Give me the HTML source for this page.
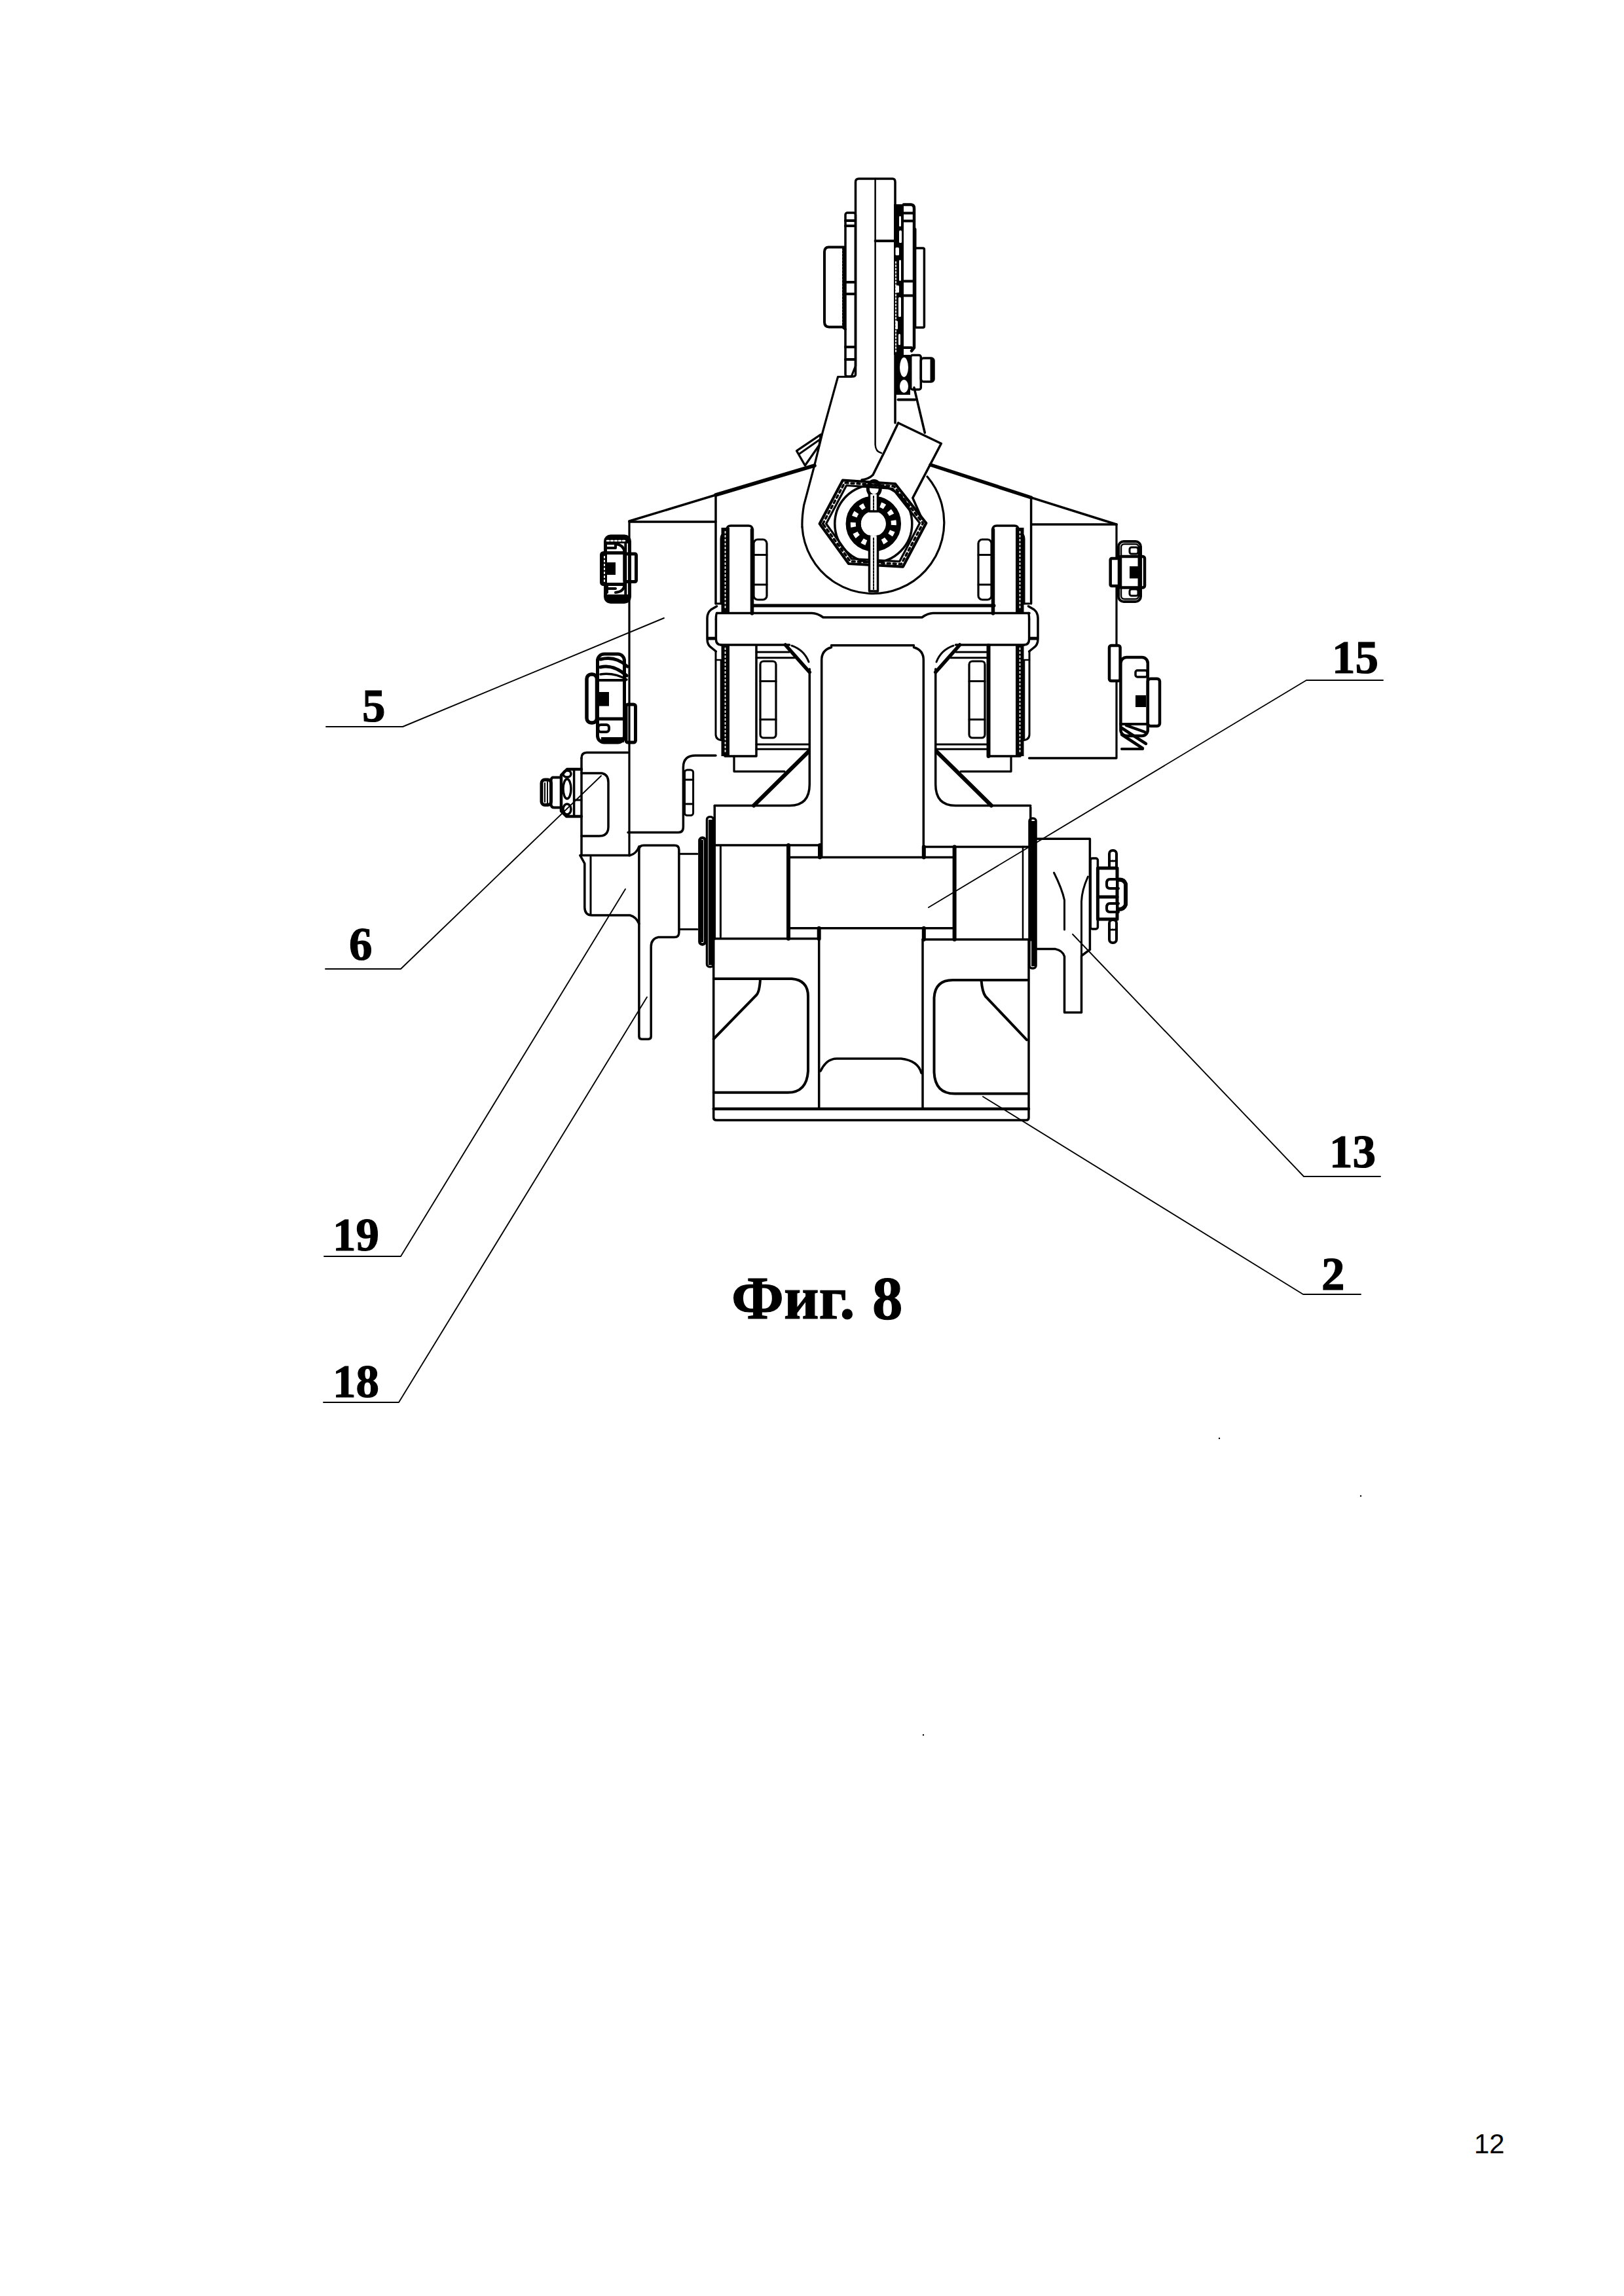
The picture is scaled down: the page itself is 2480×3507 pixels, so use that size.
<!DOCTYPE html>
<html><head><meta charset="utf-8"><style>html,body{margin:0;padding:0;background:#fff}svg{display:block}.serif{font-family:"Liberation Serif",serif}.sans{font-family:"Liberation Sans",sans-serif}</style></head>
<body><svg width="2480" height="3507" viewBox="0 0 2480 3507">
<g fill="none" stroke="#000" stroke-linecap="round" stroke-linejoin="round">
<path d="M498,1110 H615 L1014,944" stroke-width="1.9"/>
<path d="M497,1480 H612 L918,1185" stroke-width="1.9"/>
<path d="M1418,1386 L1995,1039 H2112" stroke-width="1.9"/>
<path d="M1638,1427 L1991,1797 H2108" stroke-width="1.9"/>
<path d="M1501,1675 L1990,1977 H2078" stroke-width="1.9"/>
<path d="M495,1919 H612 L955,1358" stroke-width="1.9"/>
<path d="M494,2142 H609 L988,1523" stroke-width="1.9"/>
<path d="M961,796 L1093,756" stroke-width="3.5"/>
<path d="M1093,756 L1244,711" stroke-width="5.5"/>
<path d="M1421,710 L1574.6,760" stroke-width="5.5"/>
<path d="M1574.6,760 L1705,801" stroke-width="3.5"/>
<path d="M961,797 H1093" stroke-width="3.5"/>
<path d="M1574.6,801 H1705" stroke-width="3.5"/>
<path d="M961,796 V1307" stroke-width="3.2"/>
<path d="M1705,801 V1158" stroke-width="3.2"/>
<path d="M1093,756 V922" stroke-width="3.5"/>
<path d="M1574.6,760 V922" stroke-width="3.5"/>
<path d="M959,1271.5 H1036 Q1043.4,1271.5 1043.4,1263 V1172 Q1043.4,1154 1062,1154 H1093" stroke-width="3.5"/>
<rect x="1045.5" y="1176" width="13.1" height="69.5" rx="4" stroke-width="3"/>
<path d="M1045.5,1191 H1058.6 M1045.5,1228 H1058.6" stroke-width="3"/>
<path d="M1571.6,1158 H1704" stroke-width="3.5"/>
<path d="M1101,922 V823 Q1101,815.5 1107,815.5" stroke-width="3"/>
<path d="M 1564 922 V 823 Q 1564 815.5 1558 815.5" stroke-width="3"/>
<path d="M1093,922 H1101" stroke-width="3"/>
<path d="M 1572 922 H 1564" stroke-width="3"/>
<rect x="1101.5" y="806" width="12.5" height="131" fill="#000" stroke="none"/>
<rect x="1551.0" y="806" width="12.5" height="131" fill="#000" stroke="none"/>
<path d="M1107.5,812 V932" stroke-width="1.8" stroke="#fff" stroke-dasharray="2 4"/>
<path d="M 1557.5 812 V 932" stroke-width="1.8" stroke="#fff" stroke-dasharray="2 4"/>
<path d="M1110,809 Q1110,803 1116,803 H1143 Q1149,803 1149,809" stroke-width="3.5"/>
<path d="M 1555 809 Q 1555 803 1549 803 H 1522 Q 1516 803 1516 809" stroke-width="3.5"/>
<path d="M1148.5,809 V937" stroke-width="5.5"/>
<path d="M 1516.5 809 V 937" stroke-width="5.5"/>
<rect x="1151" y="824" width="20" height="92" rx="6" stroke-width="3.2"/>
<rect x="1494.0" y="824" width="20.0" height="92" rx="6" stroke-width="3.2"/>
<path d="M1151,847.5 H1171 M1151,893 H1171" stroke-width="3"/>
<path d="M 1514 847.5 H 1494 M 1514 893 H 1494" stroke-width="3"/>
<path d="M1149,925 H1518" stroke-width="5"/>
<path d="M1094.6,936.5 H1240 Q1248,936.5 1257,943 H1408 Q1417,936.5 1425,936.5 H1572 M1100.8,985 H1205.5 M1459.5,985 H1564" stroke-width="3.5"/>
<path d="M1093.4,946 V976" stroke-width="3.5"/>
<path d="M 1571.6 946 V 976" stroke-width="3.5"/>
<path d="M1094.6,936.5 Q1093.4,937 1093.4,946 M1093.4,976 Q1093.4,985 1100.8,985" stroke-width="3.5"/>
<path d="M 1570.4 936.5 Q 1571.6 937 1571.6 946 M 1571.6 976 Q 1571.6 985 1564.2 985" stroke-width="3.5"/>
<path d="M1094.6,926 L1086,931 Q1080,936 1080,944 V976 Q1080,985 1086,989 L1093.4,995" stroke-width="3.5"/>
<path d="M 1570.4 926 L 1579 931 Q 1585 936 1585 944 V 976 Q 1585 985 1579 989 L 1571.6 995" stroke-width="3.5"/>
<rect x="1080" y="972.7" width="12" height="4.9" fill="#000" stroke="none"/>
<rect x="1573.0" y="972.7" width="12.0" height="4.9" fill="#000" stroke="none"/>
<rect x="1101.5" y="986" width="12.5" height="169" fill="#000" stroke="none"/>
<rect x="1551.0" y="986" width="12.5" height="169" fill="#000" stroke="none"/>
<path d="M1107.5,990 V1150" stroke-width="1.8" stroke="#fff" stroke-dasharray="2 4"/>
<path d="M 1557.5 990 V 1150" stroke-width="1.8" stroke="#fff" stroke-dasharray="2 4"/>
<path d="M1155,986 V1155 H1107" stroke-width="3.5"/>
<path d="M 1510 986 V 1155 H 1558" stroke-width="3.5"/>
<path d="M1509.5,986 V1155" stroke-width="6"/>
<path d="M1093,995 V1122 Q1093,1131 1106,1131" stroke-width="3"/>
<path d="M 1572 995 V 1122 Q 1572 1131 1559 1131" stroke-width="3"/>
<path d="M1093,1008 H1101 V1128" stroke-width="2.5"/>
<path d="M 1572 1008 H 1564 V 1128" stroke-width="2.5"/>
<rect x="1161" y="1010" width="24" height="117" rx="5" stroke-width="3.2"/>
<rect x="1480.0" y="1010" width="24.0" height="117" rx="5" stroke-width="3.2"/>
<path d="M1161,1040.4 H1185 M1161,1099 H1185" stroke-width="3"/>
<path d="M 1504 1040.4 H 1480 M 1504 1099 H 1480" stroke-width="3"/>
<path d="M1155,996 H1205 M1155,1004.7 H1213" stroke-width="3"/>
<path d="M 1510 996 H 1460 M 1510 1004.7 H 1452" stroke-width="3"/>
<path d="M1155,1137 H1235 M1155,1144.3 H1235" stroke-width="3"/>
<path d="M 1510 1137 H 1430 M 1510 1144.3 H 1430" stroke-width="3"/>
<path d="M1121,1155.4 V1178.3 H1198" stroke-width="3.2"/>
<path d="M 1544 1155.4 V 1178.3 H 1467" stroke-width="3.2"/>
<path d="M1209,986.2 Q1228,993 1235,1011" stroke-width="3"/>
<path d="M 1456 986.2 Q 1437 993 1430 1011" stroke-width="3"/>
<path d="M1199.3,985 L1236.3,1026.8" stroke-width="5.5"/>
<path d="M 1465.7 985 L 1428.7 1026.8" stroke-width="5.5"/>
<path d="M1236.3,1022 V1198 Q1236.3,1230.5 1206,1230.5 H1091.3" stroke-width="3.5"/>
<path d="M 1428.7 1022 V 1198 Q 1428.7 1230.5 1459 1230.5 H 1573.7" stroke-width="3.5"/>
<path d="M1234.7,1148 L1151,1230.5" stroke-width="6"/>
<path d="M 1430.3 1148 L 1514 1230.5" stroke-width="6"/>
<path d="M1269.5,988.7 Q1254.7,993 1254.7,1008 V1309.4 M1395.5,988.7 Q1410.3,993 1410.3,1008 V1309.4 M1269.5,985.7 H1395.5" stroke-width="3.5"/>
<path d="M926,830 V826 Q926,819 933,819 H950 Q957,819 962,825 V830 Z" fill="#000" stroke="none"/>
<rect x="924.5" y="819" width="37.0" height="100.5" rx="8" stroke-width="5"/>
<path d="M927,826 H955" stroke-width="2.5" stroke="#fff" stroke-dasharray="3 3"/>
<path d="M926,830 H940 V837 H927 M940,831 Q953,832 953.5,844" stroke-width="4"/>
<path d="M927,844 H954" stroke-width="4"/>
<rect x="918.5" y="844.5" width="35.5" height="48.0" rx="3" stroke-width="5"/>
<rect x="919" y="846" width="8" height="45" fill="#000" stroke="none"/>
<path d="M923,850 V888" stroke-width="2" stroke="#fff" stroke-dasharray="2 4"/>
<rect x="927" y="859" width="13" height="19" fill="#000" stroke="none"/>
<rect x="954" y="846" width="17.5" height="42.5" rx="2" stroke-width="5"/>
<path d="M955.3,829 V908" stroke-width="4"/>
<path d="M927,893 V905 M927,899 H940 M940,905 Q953,904 953.5,893" stroke-width="4"/>
<path d="M926,908 H961 V912 Q958,919.5 950,919.5 H934 Q927,919.5 926,912 Z" fill="#000" stroke="none"/>
<rect x="912.5" y="999" width="41.0" height="135" rx="10" stroke-width="5"/>
<path d="M917,1007 Q940,1001 958,1018" stroke-width="5"/>
<path d="M917,1019 Q936,1014 957,1032" stroke-width="5"/>
<path d="M917,1030 Q938,1027 957,1038" stroke-width="3.5"/>
<path d="M913,1039 H955" stroke-width="4"/>
<rect x="913" y="1057" width="17" height="21.5" fill="#000" stroke="none"/>
<path d="M913,1098 H955" stroke-width="5"/>
<rect x="913.5" y="1107" width="16.5" height="11" rx="4" stroke-width="4"/>
<rect x="918" y="1126" width="35" height="8" fill="#000" stroke="none"/>
<rect x="896" y="1030" width="15.5" height="74" rx="7" stroke-width="5.5"/>
<rect x="956" y="1076" width="14.5" height="58" rx="3" stroke-width="5"/>
<rect x="1708" y="827" width="34" height="92" rx="8" stroke-width="4"/>
<rect x="1709" y="850" width="39" height="47.5" rx="3" stroke-width="4.5"/>
<rect x="1695.7" y="853" width="13.3" height="42" rx="2" stroke-width="4.5" fill="#fff"/>
<rect x="1712" y="831" width="26.8" height="84" rx="5" stroke-width="2.5"/>
<rect x="1725" y="865" width="13" height="18.5" fill="#000" stroke="none"/>
<rect x="1725" y="836" width="13" height="10" rx="3" stroke-width="3"/>
<rect x="1725" y="900" width="13" height="10" rx="3" stroke-width="3"/>
<path d="M1709,874 H1748" stroke-width="0"/>
<rect x="1694" y="986" width="16.6" height="54" rx="3" stroke-width="4.5" fill="#fff"/>
<rect x="1711.4" y="1004" width="41.4" height="120" rx="9" stroke-width="4.5"/>
<rect x="1752.8" y="1036.7" width="18.2" height="72.3" rx="4" stroke-width="4.5"/>
<rect x="1734" y="1024" width="18" height="10" rx="3" stroke-width="3.5"/>
<rect x="1734" y="1062" width="16" height="18" fill="#000" stroke="none"/>
<path d="M1711,1106 H1752" stroke-width="4"/>
<path d="M1713,1112 L1750,1136 M1713,1122 L1745,1143 M1720,1108 L1748,1118" stroke-width="4.5"/>
<path d="M1713,1144 H1745" stroke-width="4"/>
<path d="M888,1158 Q888,1149.6 896,1149.6 H959" stroke-width="3.5"/>
<path d="M888,1158 V1306.6" stroke-width="3.5"/>
<path d="M888,1181 H919 Q929,1183 929,1195 V1263 Q929,1277 915,1277 H888" stroke-width="3.5"/>
<path d="M888,1175 H866 L857,1184 V1239 L865,1247 H888" stroke-width="4.5"/>
<path d="M876.6,1176 V1246" stroke-width="3.5"/>
<path d="M876.6,1222 H888" stroke-width="3"/>
<ellipse cx="866" cy="1182" rx="6" ry="5" stroke-width="3.5"/>
<ellipse cx="866" cy="1205" rx="6" ry="15" stroke-width="3.5"/>
<ellipse cx="866" cy="1236" rx="6" ry="8" stroke-width="3.5"/>
<path d="M857,1187.5 H844 Q842,1188 841.5,1192 V1229 Q842,1233.5 846,1233.5 H857" stroke-width="4"/>
<rect x="827" y="1191" width="14.5" height="38.5" rx="5" stroke-width="5"/>
<path d="M832,1196 V1225 M836,1194 V1227" stroke-width="2"/>
<path d="M886,1306.6 H962 Q972,1304 975.9,1293" stroke-width="3.5"/>
<path d="M886,1306.6 L892.8,1319 V1386 Q893,1398 904,1398 H962 Q971,1400 975.9,1411" stroke-width="3.5"/>
<path d="M902,1309 V1396" stroke-width="3"/>
<path d="M975.9,1298 Q976,1291.3 983,1291.3 H1030 Q1036.9,1291.3 1036.9,1298 V1424 Q1036.9,1431.6 1030,1431.6 H1005 Q994.2,1434 994.2,1446 V1583 Q994.2,1587.2 990,1587.2 H980 Q975.9,1587.2 975.9,1583 Z" stroke-width="3.5"/>
<path d="M1038.4,1304.3 H1065 M1038.4,1419.4 H1065" stroke-width="3"/>
<rect x="1079.5" y="1247.8" width="9.9" height="229.0" rx="4" stroke-width="3.5" fill="none"/>
<rect x="1082" y="1252" width="6" height="222" fill="#000" stroke="none"/>
<rect x="1068.4" y="1279.8" width="8.6" height="162.6" rx="4" stroke-width="4.5"/>
<rect x="1070" y="1283" width="4" height="156" fill="#000" stroke="none"/>
<rect x="1572" y="1250" width="10" height="229" rx="4" stroke-width="3.5"/>
<rect x="1575" y="1254" width="6" height="222" fill="#000" stroke="none"/>
<path d="M1562,1293 V1435" stroke-width="2.5"/>
<path d="M1091.3,1230.5 V1434" stroke-width="3.5"/>
<path d="M1573.7,1233 V1436" stroke-width="3.5"/>
<path d="M1091.3,1291 H1250.7 M1411,1293.4 H1573.7" stroke-width="3.5"/>
<path d="M1091.3,1433.7 H1250.7 M1409,1435 H1569.7" stroke-width="3.5"/>
<path d="M1100.4,1293 V1431" stroke-width="3"/>
<path d="M1204,1291 V1433.7 M1457.6,1293.4 V1435" stroke-width="6"/>
<path d="M1204,1309.4 H1457.6 M1204,1417.7 H1457.6" stroke-width="3.5"/>
<path d="M1252,1291 V1309.4 M1250.7,1417.7 V1434 M1410.8,1293.4 V1309.4 M1410.8,1417.7 V1435" stroke-width="6"/>
<path d="M1089.7,1434 V1707 Q1089.7,1711 1094,1711 H1567 Q1571,1711 1571,1707 V1435" stroke-width="3.5"/>
<path d="M1089.7,1693.8 H1571" stroke-width="4.5"/>
<path d="M1250.7,1434 V1693.8 M1409,1435 V1693.8" stroke-width="3.5"/>
<path d="M1089.7,1495 H1209 Q1234,1497 1234,1522 V1636 Q1232,1668.8 1203,1668.8 H1089.7" stroke-width="4"/>
<path d="M1161,1495 Q1160,1515 1155,1520 L1089.7,1587" stroke-width="4"/>
<path d="M1569.7,1497 H1455 Q1428,1497 1426.5,1524 V1638 Q1428,1670.6 1458,1670.6 H1569.7" stroke-width="4"/>
<path d="M1498.6,1498 Q1500,1515 1505,1522 L1568,1588.4" stroke-width="4"/>
<path d="M1253,1636 Q1262,1617 1278,1617 H1376 Q1402,1620 1407,1639" stroke-width="3.5"/>
<path d="M1582.9,1281.2 H1664.4 V1450.4" stroke-width="3.5"/>
<path d="M1582,1449.6 H1611.8 Q1623,1452 1625.5,1461 V1546.4 H1651.5 V1460 L1664.4,1450.4" stroke-width="3.5"/>
<path d="M1609.5,1333 Q1622,1358 1625.5,1375 V1420" stroke-width="3"/>
<path d="M1661.4,1339 Q1652,1360 1651.5,1377 V1460" stroke-width="3"/>
<rect x="1665.2" y="1311" width="11.2" height="108" rx="3" stroke-width="3.5"/>
<rect x="1694" y="1299" width="11" height="30" rx="5" stroke-width="4"/>
<rect x="1694" y="1405" width="11" height="35" rx="5" stroke-width="4"/>
<path d="M1694,1315 H1705 M1694,1420 H1705" stroke-width="3" stroke-dasharray="2 2"/>
<rect x="1676.4" y="1326" width="29.6" height="78" fill="#fff" stroke-width="5"/>
<path d="M1676.4,1370 H1706" stroke-width="5"/>
<path d="M1706,1344 Q1716,1342 1719,1350 V1382 Q1716,1390 1706,1389" stroke-width="6"/>
<path d="M1708,1343 H1695 Q1690,1343 1690,1349 V1352 Q1690,1357 1695,1357 H1708 M1708,1380 H1695 Q1690,1380 1690,1386 V1388 Q1690,1393 1695,1393 H1708" fill="#fff" stroke-width="4"/>
<path d="M1706,1338 V1395" stroke-width="4"/>
<path d="M1306.5,559 V278 Q1306.5,273 1311.5,273 H1363 Q1367,273 1367,278 V646" stroke-width="3.5"/>
<path d="M1336.6,273 V679 Q1337,690 1346,692" stroke-width="2.5"/>
<path d="M1336.6,368 H1366" stroke-width="4"/>
<rect x="1291" y="325" width="15.5" height="250" rx="3" stroke-width="3.5"/>
<path d="M1291,337 H1306 M1291,345 H1306 M1291,431 H1306 M1291,449 H1306 M1291,530 H1306 M1291,549 H1306" stroke-width="4"/>
<path d="M1287,377.5 H1265 Q1259,378 1259,385 V492 Q1259,499.4 1266,499.4 H1287 L1291,503" stroke-width="4"/>
<path d="M1288.5,378 V500" stroke-width="5" stroke-dasharray="3 2"/>
<path d="M1306.5,559 L1300,575.5 H1279.6 L1256,661 L1243.3,712.6 L1227.6,771.7 Q1224.5,790 1225,805" stroke-width="3.2"/>
<path d="M1225,805 A108.5,108.5 0 1 0 1416,728" stroke-width="3.2"/>
<rect x="1365" y="312" width="15" height="230" fill="#000" stroke="none"/>
<rect x="1373" y="330" width="3" height="16" rx="1.5" fill="#fff" stroke="none"/>
<rect x="1373" y="352" width="4" height="19" rx="1.5" fill="#fff" stroke="none"/>
<rect x="1367.5" y="378" width="5.5" height="12" rx="1.5" fill="#fff" stroke="none"/>
<rect x="1373" y="397" width="3" height="32" rx="1.5" fill="#fff" stroke="none"/>
<rect x="1367.5" y="436" width="5.5" height="11" rx="1.5" fill="#fff" stroke="none"/>
<rect x="1372" y="454" width="4" height="30" rx="1.5" fill="#fff" stroke="none"/>
<rect x="1367.5" y="490" width="3.5" height="13" rx="1.5" fill="#fff" stroke="none"/>
<rect x="1372" y="510" width="3" height="17" rx="1.5" fill="#fff" stroke="none"/>
<path d="M1368,400 V540" stroke-width="1.8" stroke="#fff" stroke-dasharray="2 3"/>
<path d="M1380,312.5 H1391 Q1396,313 1396,318 V531 L1392,536" stroke-width="4.5"/>
<path d="M1380,325.5 H1396 M1380,337.5 H1396 M1380,429.5 H1396 M1380,451.5 H1396 M1380,531 H1392" stroke-width="4"/>
<path d="M1397.5,350 V379" stroke-width="4"/>
<rect x="1397.6" y="379" width="13.8" height="121.3" rx="2" stroke-width="3.5"/>
<rect x="1367" y="542" width="23" height="61" fill="#000" stroke="none"/>
<ellipse cx="1380.5" cy="561" rx="6.5" ry="15" fill="#fff" stroke="none"/>
<ellipse cx="1380.5" cy="590" rx="6.5" ry="10" fill="#fff" stroke="none"/>
<rect x="1390.7" y="542.5" width="15.6" height="52.5" rx="3" stroke-width="3.5"/>
<rect x="1406.3" y="547" width="19.7" height="36" rx="4" stroke-width="3.5"/>
<path d="M1423,549 V581" stroke-width="5"/>
<path d="M1371.5,610.6 H1397.4" stroke-width="4"/>
<path d="M1395.9,592 L1412.3,661" stroke-width="3.5"/>
<path d="M1371.7,646 L1437.3,677.5 L1393.8,760.6 L1406.8,790" stroke-width="3.5"/>
<path d="M1371.7,646 L1351.4,688.6 L1333,725.5 Q1326,732 1316,733" stroke-width="3.5"/>
<path d="M1216.5,688.6 L1253.5,663.6 L1251,680 L1229.4,711 Z" stroke-width="3.2"/>
<path d="M1221,693 L1251,672" stroke-width="3"/>
<path d="M1251.7,800.0 L1287.0,733.5 L1367.0,739.0 L1414.3,799.0 L1379.0,865.6 L1296.0,861.0 Z" stroke-width="4.2"/>
<path d="M1261.6,800.0 L1292.6,741.5 L1363.0,746.3 L1404.6,799.1 L1373.6,857.7 L1300.5,853.7 Z" stroke-width="3.2"/>
<path d="M1256.6,800.0 L1289.8,737.5 L1365.0,742.7 L1409.5,799.1 L1376.3,861.7 L1298.3,857.3 Z" stroke-width="3.5" stroke-dasharray="4 5"/>
<circle cx="1333.8" cy="800" r="59" stroke-width="3.5"/>
<circle cx="1333.8" cy="800" r="30.5" stroke-width="23.5"/>
<circle cx="1333.8" cy="800" r="31" stroke-width="8" stroke="#fff" stroke-linecap="butt" stroke-dasharray="7 9.2" stroke-dashoffset="5"/>
<circle cx="1333.8" cy="800" r="19" fill="#fff" stroke="none"/>
<ellipse cx="1334.8" cy="746" rx="9.5" ry="11.5" stroke-width="5"/>
<path d="M1327.5,755 V781 H1340.5 V755 M1327.5,819 V903 H1340.5 V819" fill="#fff" stroke-width="3.5"/>
<path d="M1334,758 V779 M1334,822 V900" stroke-width="2" stroke-dasharray="3 2"/>
<circle cx="1862" cy="2197" r="1.2" fill="#000" stroke="none"/>
<circle cx="2078" cy="2285" r="1.2" fill="#000" stroke="none"/>
<circle cx="1410" cy="2650" r="1.2" fill="#000" stroke="none"/>
</g>
<g fill="#000" stroke="#000" stroke-width="1.2">
<text x="553" y="1102" class="serif" font-size="71" font-weight="bold">5</text>
<text x="533" y="1466" class="serif" font-size="71" font-weight="bold">6</text>
<text x="2034" y="1028" class="serif" font-size="71" font-weight="bold">15</text>
<text x="2030" y="1783" class="serif" font-size="71" font-weight="bold">13</text>
<text x="2018" y="1970" class="serif" font-size="71" font-weight="bold">2</text>
<text x="508" y="1910" class="serif" font-size="71" font-weight="bold">19</text>
<text x="508" y="2134" class="serif" font-size="71" font-weight="bold">18</text>
<text x="1117" y="2014" class="serif" font-size="93" font-weight="bold">Фиг.</text>
<text x="1332" y="2014" class="serif" font-size="93" font-weight="bold">8</text>
<text x="2251" y="3289" class="sans" font-size="42" stroke="none">12</text>
</g>
</svg></body></html>
